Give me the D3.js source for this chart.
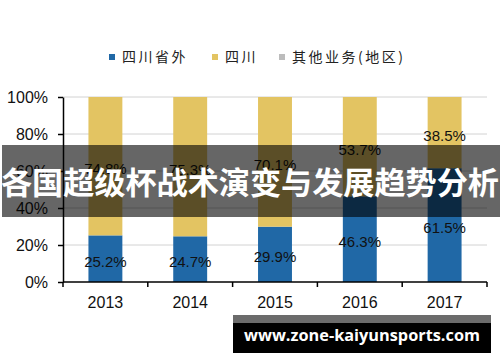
<!DOCTYPE html>
<html>
<head>
<meta charset="utf-8">
<script src="https://cdn.jsdelivr.net/npm/d3@7"></script>
<style>
  body { margin: 0; background: #fff; }
  svg { display: block; font-family: "Liberation Sans", Arial, sans-serif; }
</style>
</head>
<body>
<div class="container"></div>
<script>
var width = 500;
var height = 362;
var margin = {top: 97, right: 13, bottom: 80, left: 63};

// data
var years = ["2013", "2014", "2015", "2016", "2017"];
var outside = [25.2, 24.7, 29.9, 46.3, 61.5];   // 四川省外
var sichuan = [74.8, 75.3, 70.1, 53.7, 38.5];   // 四川
var other = [0, 0, 0, 0, 0];                    // 其他业务(地区)
var seriesNames = ["四川省外", "四川", "其他业务(地区)"];
var colors = ["#2068a6", "#e3c462", "#bcbcbc"];
var yTicks = [0, 20, 40, 60, 80, 100];

var svg = d3.select(".container").append("svg")
  .attr("width", width).attr("height", height);

// scales
var xScale = d3.scaleBand().domain(years)
  .range([margin.left, width - margin.right])
  .paddingInner(0.6).paddingOuter(0.3);
var xBand = d3.scaleBand().domain(years)
  .range([margin.left, width - margin.right]);
var yScale = d3.scaleLinear().domain([0, 100])
  .range([height - margin.bottom, margin.top]);

// gridlines
svg.append("g").selectAll("line")
  .data(yTicks.slice(1))
  .enter().append("line")
  .attr("x1", margin.left).attr("x2", width - margin.right)
  .attr("y1", d => yScale(d)).attr("y2", d => yScale(d))
  .attr("stroke", "#d2d2d2").attr("stroke-width", 1);

// stacked bars
var table = years.map((y, i) => ({year: y, a: outside[i], b: sichuan[i], c: other[i]}));
var stack = d3.stack().keys(["a", "b", "c"])(table);

stack.forEach(function(layer, k) {
  svg.append("g").selectAll("rect")
    .data(layer)
    .enter().append("rect")
    .attr("x", d => xScale(d.data.year))
    .attr("width", xScale.bandwidth())
    .attr("y", d => yScale(d[1]))
    .attr("height", d => yScale(d[0]) - yScale(d[1]))
    .attr("fill", colors[k]);
});

// value labels
stack.slice(0, 2).forEach(function(layer) {
  svg.append("g").selectAll("text")
    .data(layer)
    .enter().append("text")
    .attr("x", d => xScale(d.data.year) + xScale.bandwidth() / 2)
    .attr("y", d => yScale((d[0] + d[1]) / 2) + 8)
    .attr("text-anchor", "middle")
    .attr("font-size", 15)
    .attr("fill", "#111")
    .text(d => (d[1] - d[0]).toFixed(1) + "%");
});

// axes
var yAxis = d3.axisLeft(yScale).tickValues(yTicks)
  .tickFormat(d => d + "%").tickSize(5).tickPadding(10).tickSizeOuter(0);
var gy = svg.append("g").attr("transform", "translate(" + margin.left + ",0)").call(yAxis);
gy.selectAll("text").attr("font-size", 16).attr("fill", "#111");
gy.selectAll("line, path").attr("stroke", "#000").attr("stroke-width", 1.5);

var gx = svg.append("g").attr("transform", "translate(0," + yScale(0) + ")");
gx.append("line")
  .attr("x1", margin.left).attr("x2", width - margin.right)
  .attr("stroke", "#000").attr("stroke-width", 1.5);
gx.selectAll(".tk").data(years.concat([""]))
  .enter().append("line")
  .attr("x1", (d, i) => margin.left + i * xBand.bandwidth())
  .attr("x2", (d, i) => margin.left + i * xBand.bandwidth())
  .attr("y1", 0).attr("y2", 5)
  .attr("stroke", "#000").attr("stroke-width", 1.5);
gx.selectAll("text").data(years)
  .enter().append("text")
  .attr("x", d => xBand(d) + xBand.bandwidth() / 2)
  .attr("y", 26)
  .attr("text-anchor", "middle")
  .attr("font-size", 16).attr("fill", "#111")
  .text(d => d);

// legend
var legendX = [109, 212, 279];
var legend = svg.append("g").selectAll("g")
  .data(seriesNames).enter().append("g")
  .attr("transform", (d, i) => "translate(" + legendX[i] + ",57)");
legend.append("rect")
  .attr("x", 0).attr("y", -3).attr("width", 6).attr("height", 6)
  .attr("fill", (d, i) => colors[i]);
legend.append("text")
  .attr("x", 13).attr("y", 5)
  .attr("font-family", "'Noto Sans CJK SC', sans-serif")
  .attr("font-size", 14).attr("letter-spacing", 2.5)
  .attr("fill", "#222")
  .text(d => d);

// overlay banner
svg.append("rect")
  .attr("x", 2).attr("y", 145).attr("width", 498).attr("height", 72)
  .attr("fill", "#000").attr("fill-opacity", 0.6);
svg.append("text")
  .attr("x", 250).attr("y", 194)
  .attr("text-anchor", "middle")
  .attr("font-family", "'Noto Sans CJK SC', sans-serif")
  .attr("font-weight", "bold").attr("font-size", 31)
  .attr("textLength", 498).attr("lengthAdjust", "spacingAndGlyphs")
  .attr("fill", "#fff")
  .text("各国超级杯战术演变与发展趋势分析");

// site badge
svg.append("rect").attr("x", 233).attr("y", 315).attr("width", 258).attr("height", 8).attr("fill", "#6b6b6b");
svg.append("rect").attr("x", 233).attr("y", 323).attr("width", 258).attr("height", 30).attr("fill", "#000");
svg.append("text")
  .attr("x", 362).attr("y", 341)
  .attr("text-anchor", "middle")
  .attr("font-family", "'Open Sans', sans-serif")
  .attr("font-weight", "bold").attr("font-size", 16)
  .attr("textLength", 236).attr("lengthAdjust", "spacingAndGlyphs")
  .attr("fill", "#fff")
  .text("www.zone-kaiyunsports.com");
</script>
</body>
</html>
